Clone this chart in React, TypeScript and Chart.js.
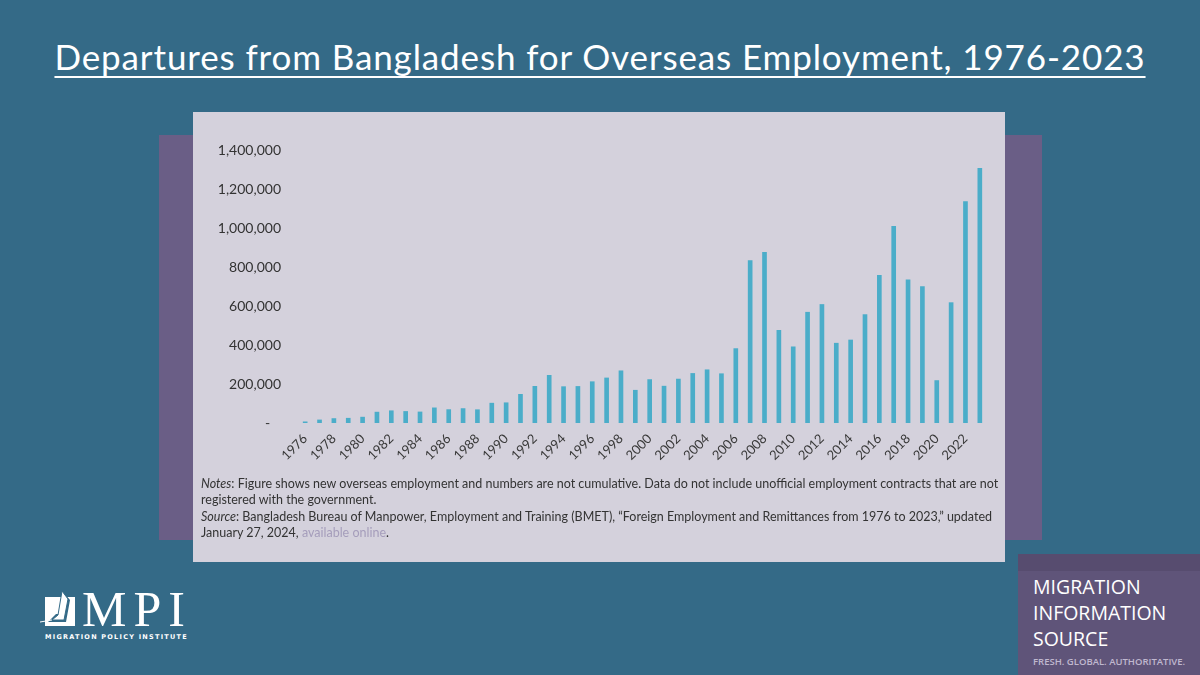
import React, { useEffect, useRef } from "react";
import { Chart, registerables } from "chart.js";

Chart.register(...registerables);

const years = [
  "1976", "1977", "1978", "1979", "1980", "1981", "1982", "1983", "1984", "1985",
  "1986", "1987", "1988", "1989", "1990", "1991", "1992", "1993", "1994", "1995",
  "1996", "1997", "1998", "1999", "2000", "2001", "2002", "2003", "2004", "2005",
  "2006", "2007", "2008", "2009", "2010", "2011", "2012", "2013", "2014", "2015",
  "2016", "2017", "2018", "2019", "2020", "2021", "2022", "2023",
];

const departures = [
  6087, 15725, 22809, 24485, 30073, 55787, 62762, 59220, 56714, 77694,
  68658, 74017, 68121, 101724, 103814, 147131, 188124, 244508, 186326, 187543,
  211714, 231077, 267667, 168000, 222686, 188965, 225256, 254190, 272958, 252702,
  381516, 832609, 875055, 475278, 390702, 568062, 607798, 409253, 425684, 555881,
  757731, 1008525, 734181, 700159, 217669, 617209, 1135873, 1305453,
];

const yMin = 0;
const yMax = 1400000;
const yStep = 200000;

const title = "Departures from Bangladesh for Overseas Employment, 1976-2023";

const BG = "#346a87";
const PURPLE = "#6a5e86";
const PANEL = "#d4d1dc";
const BAR = "#4badc9";

function BarChart() {
  const ref = useRef<HTMLCanvasElement | null>(null);
  useEffect(() => {
    if (!ref.current) return;
    const chart = new Chart(ref.current, {
      type: "bar",
      data: {
        labels: years,
        datasets: [
          {
            data: departures,
            backgroundColor: BAR,
            barThickness: 4,
          },
        ],
      },
      options: {
        animation: false,
        responsive: false,
        plugins: { legend: { display: false }, tooltip: { enabled: false } },
        layout: { padding: { top: 38, right: 18, left: 0, bottom: 0 } },
        scales: {
          x: {
            grid: { display: false, drawTicks: false },
            border: { display: false },
            ticks: {
              autoSkip: false,
              minRotation: 45,
              maxRotation: 45,
              padding: 8,
              color: "#3a3a3a",
              font: { family: "Lato", size: 13 },
              callback: (_v: any, i: number) => (i % 2 === 0 ? years[i] : ""),
            },
            afterFit: (s: any) => {
              s.height = 59;
            },
          },
          y: {
            min: yMin,
            max: yMax,
            grid: { display: false, drawTicks: false },
            border: { display: false },
            ticks: {
              stepSize: yStep,
              padding: 17,
              color: "#333333",
              font: { family: "Lato", size: 14 },
              callback: (v: any) =>
                Number(v) === 0 ? "-   " : Number(v).toLocaleString("en-US"),
            },
            afterFit: (s: any) => {
              s.width = 105;
            },
          },
        },
      },
    });
    return () => chart.destroy();
  }, []);
  return (
    <canvas
      ref={ref}
      width={812}
      height={370}
      style={{ position: "absolute", left: 193, top: 112, width: 812, height: 370 }}
    />
  );
}

export default function App() {
  return (
    <div
      style={{
        position: "fixed",
        left: 0,
        top: 0,
        width: 1200,
        height: 675,
        background: BG,
        overflow: "hidden",
        fontFamily: "Lato, sans-serif",
      }}
    >
      <div
        style={{
          position: "absolute",
          left: 0,
          top: 36,
          width: 1200,
          textAlign: "center",
          color: "#ffffff",
          fontFamily: "Lato, sans-serif",
          fontSize: 35,
          lineHeight: "40px",
          letterSpacing: 0.88,
          whiteSpace: "nowrap",
          textDecoration: "underline",
          textDecorationThickness: 2,
          textUnderlineOffset: 6,
        }}
      >
        {title}
      </div>

      <div style={{ position: "absolute", left: 159, top: 135, width: 883, height: 405, background: PURPLE }} />
      <div style={{ position: "absolute", left: 193, top: 112, width: 812, height: 450, background: PANEL }} />

      <BarChart />

      <div
        style={{
          position: "absolute",
          left: 201,
          top: 476,
          width: 804,
          color: "#333333",
          fontFamily: "Lato, sans-serif",
          fontSize: 12.5,
          lineHeight: "16.4px",
        }}
      >
        <div>
          <i>Notes</i>: Figure shows new overseas employment and numbers are not cumulative. Data do not include unofficial employment contracts that are not registered with the government.
        </div>
        <div>
          <i>Source</i>: Bangladesh Bureau of Manpower, Employment and Training (BMET), “Foreign Employment and Remittances from 1976 to 2023,” updated January 27, 2024,{" "}
          <span style={{ color: "#a59dbb" }}>available online</span>.
        </div>
      </div>

      {/* MPI logo */}
      <svg style={{ position: "absolute", left: 38, top: 588 }} width={42} height={40} viewBox="0 0 42 40">
        <rect x={7} y={9} width={30} height={29} fill="#ffffff" />
        <polygon points="24,3 32,12 28,34 10,34 18,26 22,26" fill={BG} />
        <polygon points="24,3 30,11 26,32 14,32 20,27" fill="#ffffff" stroke={BG} strokeWidth={1} />
        <line x1={2} y1={34} x2={14} y2={32} stroke="#ffffff" strokeWidth={1} />
      </svg>
      <div
        style={{
          position: "absolute",
          left: 82,
          top: 584,
          color: "#ffffff",
          fontFamily: "'Liberation Serif', serif",
          fontSize: 50,
          lineHeight: "50px",
          letterSpacing: 7,
          whiteSpace: "nowrap",
        }}
      >
        MPI
      </div>
      <div
        style={{
          position: "absolute",
          left: 45,
          top: 633,
          color: "#ffffff",
          fontFamily: "'DejaVu Sans', sans-serif",
          fontWeight: 700,
          fontSize: 6.5,
          letterSpacing: 1.25,
          lineHeight: "9px",
          whiteSpace: "nowrap",
        }}
      >
        MIGRATION POLICY INSTITUTE
      </div>

      {/* Migration Information Source box */}
      <div style={{ position: "absolute", left: 1018, top: 554, width: 182, height: 121, background: "#5f5479" }} />
      <div style={{ position: "absolute", left: 1018, top: 554, width: 182, height: 17, background: "#574c6f" }} />
      <div
        style={{
          position: "absolute",
          left: 1033,
          top: 574,
          color: "#ffffff",
          fontFamily: "'Open Sans', sans-serif",
          fontWeight: 500,
          fontSize: 19.5,
          lineHeight: "26px",
        }}
      >
        <div>MIGRATION</div>
        <div>INFORMATION</div>
        <div>SOURCE</div>
      </div>
      <div
        style={{
          position: "absolute",
          left: 1033,
          top: 656,
          color: "#c0b8cf",
          fontFamily: "'Open Sans', sans-serif",
          fontWeight: 600,
          fontSize: 9.5,
          lineHeight: "12px",
          letterSpacing: 0,
          whiteSpace: "nowrap",
        }}
      >
        FRESH. GLOBAL. AUTHORITATIVE.
      </div>
    </div>
  );
}
